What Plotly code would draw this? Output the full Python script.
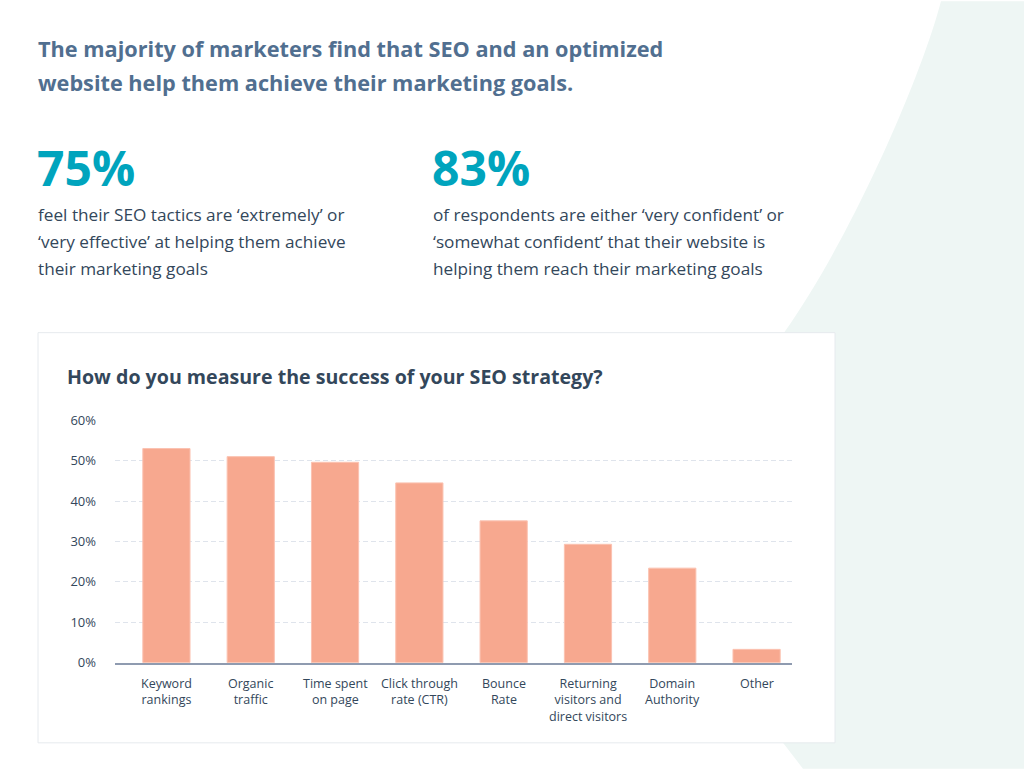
import plotly.graph_objects as go

# ---------------- data ----------------
categories = [
    "Keyword<br>rankings",
    "Organic<br>traffic",
    "Time spent<br>on page",
    "Click through<br>rate (CTR)",
    "Bounce<br>Rate",
    "Returning<br>visitors and<br>direct visitors",
    "Domain<br>Authority",
    "Other",
]
values = [53.0, 51.0, 49.6, 44.5, 35.1, 29.3, 23.4, 3.3]
y_ticks = [0, 10, 20, 30, 40, 50, 60]
y_tick_labels = ["0%", "10%", "20%", "30%", "40%", "50%", "60%"]

headline = ["The majority of marketers find that SEO and an optimized",
            "website help them achieve their marketing goals."]
stat_values = ["75%", "83%"]
stat_texts = [
    ["feel their SEO tactics are \u2018extremely\u2019 or",
     "\u2018very effective\u2019 at helping them achieve",
     "their marketing goals"],
    ["of respondents are either \u2018very confident\u2019 or",
     "\u2018somewhat confident\u2019 that their website is",
     "helping them reach their marketing goals"],
]
chart_title = "How do you measure the success of your SEO strategy?"

# ---------------- layout helpers ----------------
W, H = 1024, 771
FONT = "Open Sans"
DARK = "#33475B"
SLATE = "#516F90"
TEAL = "#00A4BD"
BAR = "#F7A88F"
BAR_EDGE = "#FBC2B1"
MINT = "#EEF6F4"

# vertical calibration of the photographed page
Y_OFF, Y_SCALE = 7.9, 0.981


def px(x):
    return x / W


def py(y):
    return 1 - ((y - Y_OFF) / Y_SCALE) / H


fig = go.Figure()
fig.add_trace(go.Bar(
    x=categories, y=values,
    marker=dict(color=BAR, line=dict(width=1, color=BAR_EDGE)),
    width=0.56,
    hoverinfo="x+y",
))

annotations = []
# headline
for i, line in enumerate(headline):
    annotations.append(dict(
        text=f"<b>{line}</b>", x=px(36), y=py(48 + 34 * i), xref="paper", yref="paper",
        xanchor="left", yanchor="middle", showarrow=False,
        font=dict(family=FONT, size=21.7, color=SLATE)))
# stats
for j, (sv, lines) in enumerate(zip(stat_values, stat_texts)):
    x0 = 36 if j == 0 else 431
    annotations.append(dict(
        text=f"<b>{sv}</b>", x=px(x0 - 1), y=py(167), xref="paper", yref="paper",
        xanchor="left", yanchor="middle", showarrow=False,
        font=dict(family=FONT, size=48, color=TEAL)))
    for i, line in enumerate(lines):
        annotations.append(dict(
            text=line, x=px(x0), y=py(214.5 + 27 * i), xref="paper", yref="paper",
            xanchor="left", yanchor="middle", showarrow=False,
            font=dict(family=FONT, size=17.2, color=DARK)))
# chart title
annotations.append(dict(
    text=f"<b>{chart_title}</b>", x=px(65), y=py(377), xref="paper", yref="paper",
    xanchor="left", yanchor="middle", showarrow=False,
    font=dict(family=FONT, size=19.6, color=DARK)))
# category labels
for cat in categories:
    annotations.append(dict(
        text=cat, x=cat, xref="x", y=py(675), yref="paper",
        xanchor="center", yanchor="top", align="center", showarrow=False,
        font=dict(family=FONT, size=12.5, color=DARK)))

shapes = [
    # mint background blob
    dict(type="path", xref="paper", yref="paper", layer="below",
         path=(f"M {px(941)},{py(0)} C {px(920)},{py(80)} {px(850)},{py(240)} {px(784)},{py(333)} "
               f"L {px(700)},{py(400)} L {px(700)},{py(700)} L {px(783)},{py(745)} L {px(803)},{py(771)} "
               f"L {px(1024)},{py(771)} L {px(1024)},{py(0)} Z"),
         fillcolor=MINT, line=dict(width=0)),
    # chart card
    dict(type="rect", xref="paper", yref="paper", layer="below",
         x0=px(38), x1=px(835), y0=py(745), y1=py(333),
         fillcolor="white", line=dict(color="#E6EAEE", width=1)),
]

fig.update_layout(
    width=W, height=H,
    margin=dict(l=0, r=0, t=0, b=0),
    paper_bgcolor="white", plot_bgcolor="rgba(0,0,0,0)",
    showlegend=False,
    bargap=0.44,
    font=dict(family=FONT, color=DARK),
    annotations=annotations,
    shapes=shapes,
    xaxis=dict(
        domain=[px(115), px(792)],
        range=[-0.61, 7.42],
        showticklabels=False, showgrid=False, zeroline=False,
        showline=True, linecolor="#8F9BB0", linewidth=2,
        fixedrange=True,
    ),
    yaxis=dict(
        domain=[py(664.5), py(421)],
        range=[0, 60],
        tickvals=y_ticks, ticktext=y_tick_labels,
        tickfont=dict(family=FONT, size=13, color=DARK),
        showgrid=True, gridcolor="#DFE4EC", gridwidth=1, griddash="5px,3px",
        zeroline=False, showline=False,
        ticks="", ticklabelstandoff=18,
        fixedrange=True,
    ),
)

fig.write_html(
    "out.html",
    post_script="document.body.style.margin='0';document.body.style.overflow='hidden';",
)
